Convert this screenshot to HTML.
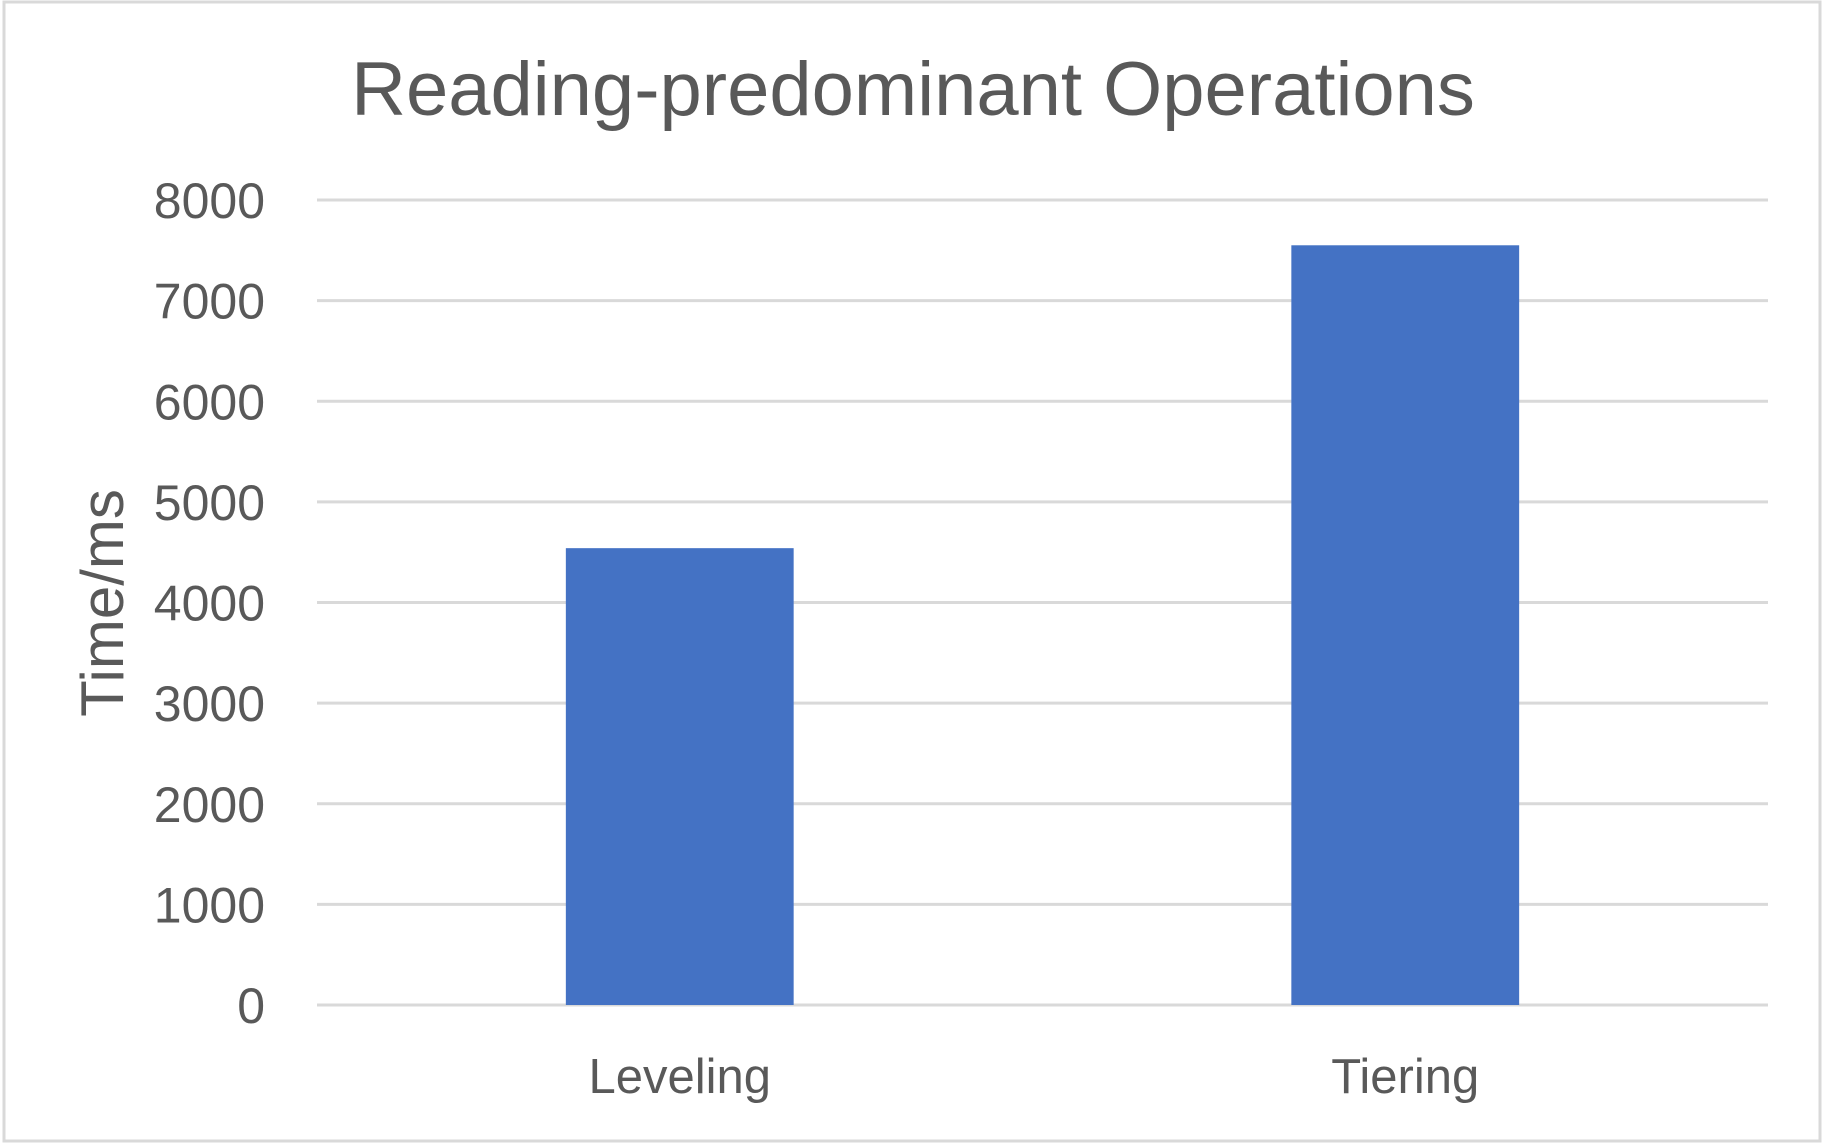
<!DOCTYPE html>
<html><head><meta charset="utf-8"><style>
html,body{margin:0;padding:0;background:#fff;}
svg{display:block;font-family:"Liberation Sans",sans-serif;}
</style></head><body>
<svg id="chart" width="1824" height="1145">
<rect x="4" y="2" width="1816" height="1139" fill="#fff" stroke="#d9d9d9" stroke-width="3"/>
<text x="913" y="115" text-anchor="middle" font-size="76" fill="#595959">Reading-predominant Operations</text>
<text transform="translate(123,603) rotate(-90)" text-anchor="middle" font-size="60" fill="#595959">Time/ms</text>
<g id="grid"></g><g id="bars"></g><g id="labels"></g>
</svg>
<script>
const categories = ["Leveling", "Tiering"];
const values = [4540, 7550];
const ticks = [0, 1000, 2000, 3000, 4000, 5000, 6000, 7000, 8000];
const NS = "http://www.w3.org/2000/svg";
const x0 = 317, x1 = 1768, y0 = 1005, y1 = 200, ymax = 8000;
const yScale = v => y0 - (v / ymax) * (y0 - y1);
const band = (x1 - x0) / categories.length;
const barW = band * 0.314;
const grid = document.getElementById("grid");
ticks.forEach(t => {
  const l = document.createElementNS(NS, "line");
  l.setAttribute("x1", x0); l.setAttribute("x2", x1);
  l.setAttribute("y1", yScale(t)); l.setAttribute("y2", yScale(t));
  l.setAttribute("stroke", "#d9d9d9"); l.setAttribute("stroke-width", "3");
  
  
  grid.appendChild(l);
  const tx = document.createElementNS(NS, "text");
  tx.setAttribute("x", 265); tx.setAttribute("y", yScale(t) + 18);
  tx.setAttribute("text-anchor", "end"); tx.setAttribute("font-size", "50");
  tx.setAttribute("fill", "#595959");
  tx.textContent = t;
  
  
  grid.appendChild(tx);
});
const bars = document.getElementById("bars"), labels = document.getElementById("labels");
categories.forEach((c, i) => {
  const cx = x0 + band * (i + 0.5);
  const r = document.createElementNS(NS, "rect");
  r.setAttribute("x", cx - barW / 2); r.setAttribute("width", barW);
  r.setAttribute("y", yScale(values[i])); r.setAttribute("height", y0 - yScale(values[i]));
  r.setAttribute("fill", "#4472c4");
  
  
  bars.appendChild(r);
  const t = document.createElementNS(NS, "text");
  t.setAttribute("x", cx); t.setAttribute("y", 1093);
  t.setAttribute("text-anchor", "middle"); t.setAttribute("font-size", "49");
  t.setAttribute("fill", "#595959");
  t.textContent = c;
  
  
  labels.appendChild(t);
});
</script>
</body></html>
